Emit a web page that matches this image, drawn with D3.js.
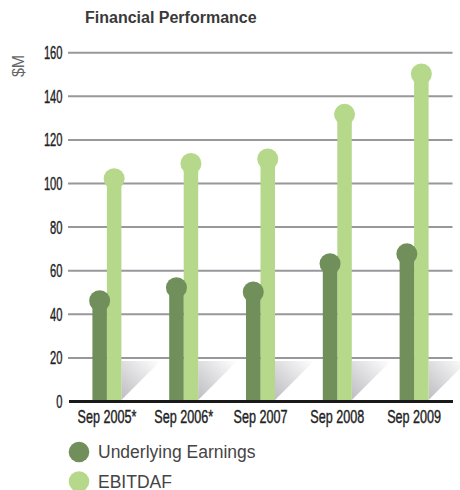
<!DOCTYPE html>
<html>
<head>
<meta charset="utf-8">
<script src="https://cdn.jsdelivr.net/npm/d3@7"></script>
<style>
  body { margin: 0; background: #fff; }
</style>
</head>
<body>
<script>
// datos
var periodos = ["Sep 2005*", "Sep 2006*", "Sep 2007", "Sep 2008", "Sep 2009"]
var underlying = [46, 52, 50, 63, 67.5]
var ebitdaf = [102, 109, 111, 131.5, 150]
var ticksY = [0, 20, 40, 60, 80, 100, 120, 140, 160]

var colorOscuro = "#718f5b"
var colorClaro = "#b5d88b"
var fuente = "'Liberation Sans', Arial, sans-serif"

var svg = d3.select("body").append("svg")
    .attr("width", 460)
    .attr("height", 490)

// degradado para las sombras
var grad = svg.append("defs").append("linearGradient")
    .attr("id", "sombra")
    .attr("x1", "100%").attr("y1", "0%")
    .attr("x2", "0%").attr("y2", "100%")
grad.append("stop").attr("offset", "0%").attr("stop-color", "#ffffff")
grad.append("stop").attr("offset", "100%").attr("stop-color", "#bdbdc2")

// escalas
var x = d3.scaleBand().domain(periodos).range([68.5, 452.5])
var y = d3.scaleLinear().domain([0, 160]).range([401, 52.2])
var anchoBarra = 14.5
var radio = 10.5

// titulo
svg.append("text")
    .attr("x", 85).attr("y", 23)
    .style("font-family", fuente)
    .style("font-weight", "bold")
    .style("font-size", "16px")
    .style("fill", "#3a3a3a")
    .text("Financial Performance")

// etiqueta eje y
svg.append("text")
    .attr("transform", "translate(24,66) rotate(-90)")
    .attr("text-anchor", "middle")
    .style("font-family", fuente)
    .style("font-size", "16px")
    .style("fill", "#666")
    .text("$M")

// eje y con lineas de rejilla
var ejeY = svg.append("g")
    .attr("transform", "translate(68,0)")
    .call(d3.axisLeft(y).tickValues(ticksY).tickSize(-384.5).tickPadding(0).tickFormat(d3.format("d")))
ejeY.select(".domain").remove()
ejeY.selectAll(".tick line")
    .attr("stroke", "#98979c")
    .attr("stroke-width", 2)
    .filter(d => d == 0).remove()
ejeY.selectAll(".tick text")
    .attr("x", 0).attr("dy", "0.36em")
    .attr("transform", "translate(-5.5,0) scale(0.62,1)")
    .style("font-family", fuente)
    .style("font-size", "18px")
    .style("stroke", "#222").style("stroke-width", 0.4)
    .style("fill", "#222")

// sombras
svg.append("g").selectAll("path")
    .data(periodos)
    .enter()
    .append("path")
    .attr("d", d => {
        var x0 = x(d) + x.bandwidth() / 2 + anchoBarra
        var y0 = y(0) - 1
        return "M" + x0 + "," + y0 + "L" + x0 + "," + (y0 - 39) + "L" + (x0 + 39) + "," + (y0 - 39) + "Z"
    })
    .attr("fill", "url(#sombra)")

// barras claras (EBITDAF)
var grupoClaro = svg.append("g")
grupoClaro.selectAll("rect")
    .data(ebitdaf)
    .enter()
    .append("rect")
    .attr("x", (d, i) => x(periodos[i]) + x.bandwidth() / 2)
    .attr("y", d => y(d))
    .attr("width", anchoBarra)
    .attr("height", d => y(0) - y(d))
    .attr("fill", colorClaro)
grupoClaro.selectAll("circle")
    .data(ebitdaf)
    .enter()
    .append("circle")
    .attr("cx", (d, i) => x(periodos[i]) + x.bandwidth() / 2 + anchoBarra / 2)
    .attr("cy", d => y(d))
    .attr("r", radio)
    .attr("fill", colorClaro)

// barras oscuras (Underlying Earnings)
var grupoOscuro = svg.append("g")
grupoOscuro.selectAll("rect")
    .data(underlying)
    .enter()
    .append("rect")
    .attr("x", (d, i) => x(periodos[i]) + x.bandwidth() / 2 - anchoBarra)
    .attr("y", d => y(d))
    .attr("width", anchoBarra)
    .attr("height", d => y(0) - y(d))
    .attr("fill", colorOscuro)
grupoOscuro.selectAll("circle")
    .data(underlying)
    .enter()
    .append("circle")
    .attr("cx", (d, i) => x(periodos[i]) + x.bandwidth() / 2 - anchoBarra / 2)
    .attr("cy", d => y(d))
    .attr("r", radio)
    .attr("fill", colorOscuro)

// eje x
var ejeX = svg.append("g")
    .attr("transform", "translate(0," + y(0) + ")")
    .call(d3.axisBottom(x).tickSize(0).tickPadding(0).tickSizeOuter(0))
ejeX.select(".domain")
    .attr("stroke", "#1a1a1a")
    .attr("stroke-width", 3)
ejeX.selectAll(".tick text")
    .attr("y", 0).attr("dy", null)
    .attr("transform", "translate(0,22) scale(0.7,1)")
    .style("font-family", fuente)
    .style("font-size", "18px")
    .style("stroke", "#222").style("stroke-width", 0.4)
    .style("fill", "#222")

// leyenda
var leyenda = [["Underlying Earnings", colorOscuro], ["EBITDAF", colorClaro]]
var itemLeyenda = svg.append("g").selectAll("g")
    .data(leyenda)
    .enter()
    .append("g")
    .attr("transform", (d, i) => "translate(79," + (452 + i * 29.5) + ")")
itemLeyenda.append("circle")
    .attr("r", 10.3)
    .attr("fill", d => d[1])
itemLeyenda.append("text")
    .attr("x", 19).attr("y", 6)
    .style("font-family", fuente)
    .style("font-size", "17.5px")
    .style("fill", "#444")
    .text(d => d[0])
</script>
</body>
</html>
